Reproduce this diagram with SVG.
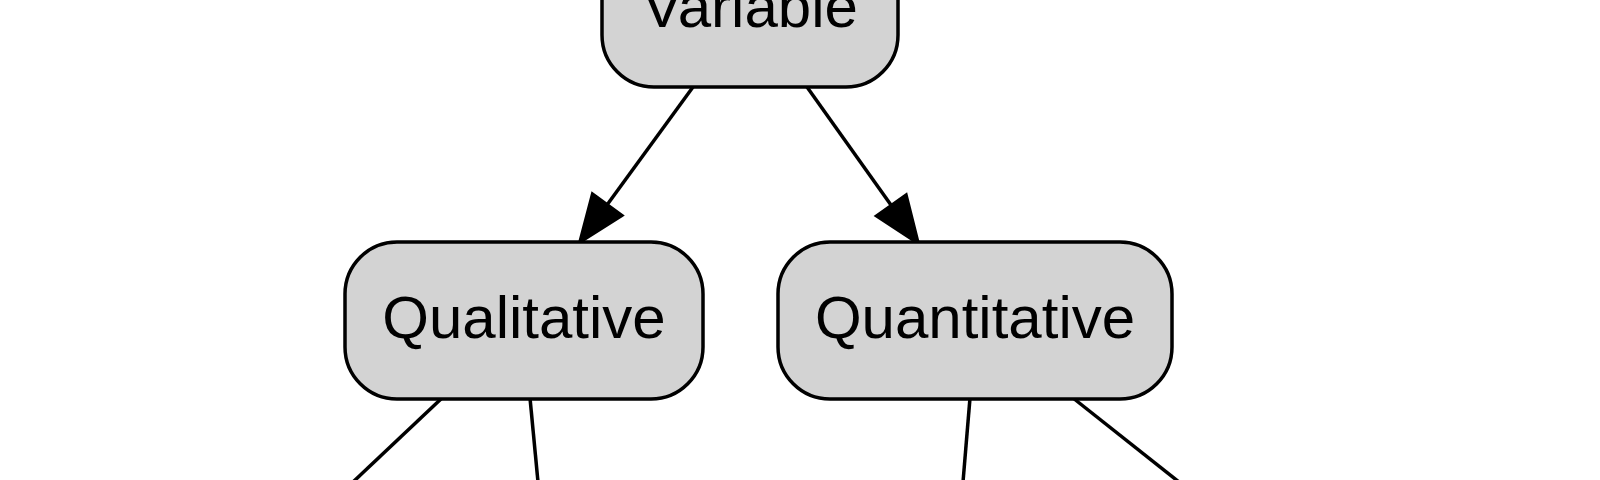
<svg xmlns="http://www.w3.org/2000/svg" width="1600" height="480" viewBox="0 0 1600 480">
  <style>
    .node rect { fill: #d3d3d3; stroke: #000; stroke-width: 3.5; }
    .node text { font-family: "Liberation Sans", Arial, Helvetica, sans-serif; font-size: 60px; fill: #000; text-anchor: middle; }
    .edge { fill: none; stroke: #000; stroke-width: 3.5; }
  </style>
  <defs>
    <marker id="arrow" markerUnits="userSpaceOnUse" markerWidth="60" markerHeight="50" refX="0" refY="25" orient="auto" overflow="visible">
      <path d="M1,7 L47,25 L1,43 Z" fill="#000" stroke="#000" stroke-width="3.5" stroke-linejoin="miter"/>
    </marker>
  </defs>
  <rect x="0" y="0" width="1600" height="480" fill="#fff"/>
  <g id="connectors">
    <path class="edge" d="M693,87 L607.7,204" marker-end="url(#arrow)"/>
    <path class="edge" d="M807,87 L890.8,204.7" marker-end="url(#arrow)"/>
    <path class="edge" d="M442,398 L353,482"/>
    <path class="edge" d="M530,398 L538,482"/>
    <path class="edge" d="M970,398 L963,482"/>
    <path class="edge" d="M1073,398 L1179,482"/>
  </g>
  <g id="node-variable" class="node">
    <rect x="602" y="-70" width="296" height="157" rx="52" ry="52"/>
    <text x="750" y="27">Variable</text>
  </g>
  <g id="node-qualitative" class="node">
    <rect x="345" y="242" width="358" height="157" rx="52" ry="52"/>
    <text x="524" y="338">Qualitative</text>
  </g>
  <g id="node-quantitative" class="node">
    <rect x="778" y="242" width="394" height="157" rx="52" ry="52"/>
    <text x="975" y="338">Quantitative</text>
  </g>
</svg>
